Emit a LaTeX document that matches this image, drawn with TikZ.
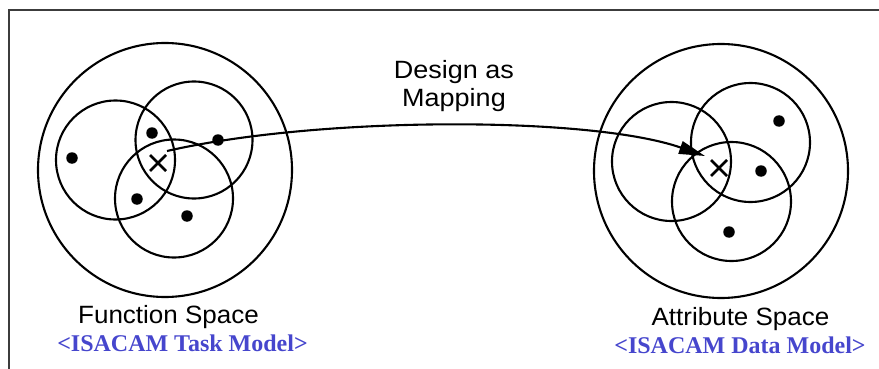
\documentclass[tikz,border=0pt]{standalone}
\usepackage{fontspec}
\setmainfont{Liberation Sans}
\newfontfamily\serifb{Liberation Serif}
\usetikzlibrary{arrows.meta,calc}
\definecolor{isablue}{RGB}{70,70,205}
\definecolor{framegray}{RGB}{60,60,60}
\tikzset{
  ring/.style={draw=black,line width=2.1pt,circle,minimum size=#1,inner sep=0pt},
  dotmark/.style={fill=black,circle,minimum size=11.5pt,inner sep=0pt},
  xmark/.style={minimum size=20pt,inner sep=0pt,
    path picture={\draw[line width=2.6pt] (path picture bounding box.south west)++(2pt,2pt) -- ++(16pt,16pt);
                  \draw[line width=2.6pt] (path picture bounding box.north west)++(2pt,-2pt) -- ++(16pt,-16pt);}},
  labeltext/.style={font=\fontsize{25}{29}\selectfont,align=center,inner sep=0pt},
  modeltext/.style={font=\serifb\bfseries\fontsize{24}{27}\selectfont,text=isablue,inner sep=0pt},
  maparrow/.style={line width=2.1pt,-{Triangle[length=26pt,width=13pt]}}
}
\begin{document}
\begin{tikzpicture}[x=1pt,y=-1pt]
\useasboundingbox (0,0) rectangle (879,369);
% frame
\draw[framegray,line width=2.2pt] (9,369) -- (9,10) -- (879,10);
% left space
\node[ring=254pt] (fs) at (165,170) {};
\node[ring=119pt] (fa) at (115.5,160) {};
\node[ring=117pt] (fb) at (194,140) {};
\node[ring=118pt] (fc) at (174,198.5) {};
\node[dotmark] (d1) at (72,158) {};
\node[dotmark] (d2) at (152,133) {};
\node[dotmark] (d3) at (137,199) {};
\node[dotmark] (d4) at (187,216) {};
\node[dotmark] (d5) at (218,140) {};
\node[xmark] (xl) at (158,163) {};
% right space
\node[ring=254pt] (as) at (721,171) {};
\node[ring=119pt] (aa) at (671.5,161.5) {};
\node[ring=119pt] (ab) at (750.5,142.5) {};
\node[ring=119pt] (ac) at (731.5,201.5) {};
\node[dotmark] (e1) at (779,121) {};
\node[dotmark] (e2) at (761,171) {};
\node[dotmark] (e3) at (729,232) {};
\node[xmark] (xr) at (719,168) {};
% mapping arrow
\coordinate (ms) at ($(xl)+(9,-12)$);
\coordinate (me) at ($(xr)+(-14,-12)$);
\draw[maparrow] (ms) .. controls (320,116) and (590,116) .. (me);
% texts
\node[labeltext] (dm) at (454,86) {\scalebox{1.08}[1]{Design as}\\[-1pt]\scalebox{1.08}[1]{Mapping}};
\node[labeltext] (fl) at (168.5,317) {\scalebox{1.04}[1]{Function Space}};
\node[modeltext] (fm) at (182.5,343) {<ISACAM Task Model>};
\node[labeltext] (al) at (740.5,319) {\scalebox{1.04}[1]{Attribute Space}};
\node[modeltext] (am) at (740,345) {<ISACAM Data Model>};
\end{tikzpicture}
\end{document}
